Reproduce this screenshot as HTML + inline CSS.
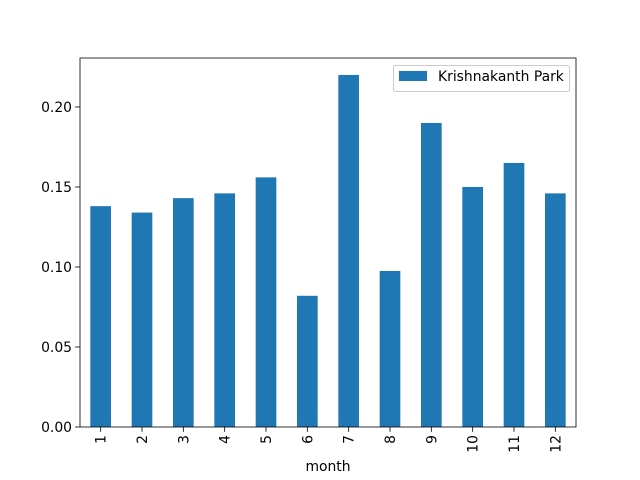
<!DOCTYPE html>
<html><head><meta charset="utf-8"><style>
body{margin:0;background:#fff}
svg{display:block;font-family:"DejaVu Sans","Liberation Sans",sans-serif}
</style></head><body>
<svg id="chart" width="640" height="480"></svg>
<script>
const categories=["1","2","3","4","5","6","7","8","9","10","11","12"];
const values=[0.138,0.134,0.143,0.146,0.156,0.082,0.220,0.0975,0.190,0.150,0.165,0.146];
const yTicks=[0,0.05,0.10,0.15,0.20];
const yTickLabels=["0.00","0.05","0.10","0.15","0.20"];
const seriesName="Krishnakanth Park";
const NS="http://www.w3.org/2000/svg";
const svg=document.getElementById('chart');
const L=80,R=576,T=58,B=427,yMax=0.2306,FS=13.9;
const y=v=>B-(v/yMax)*(B-T);
const step=(R-L)/categories.length;
const x=i=>L+step*(i+0.5);
function mk(t,a,p){const e=document.createElementNS(NS,t);for(const k in a)e.setAttribute(k,a[k]);(p||svg).appendChild(e);return e;}
values.forEach((v,i)=>{
 const r=mk('rect',{x:x(i)-step/4,y:y(v),width:step/2,height:B-y(v),fill:'#1f77b4'});
 
 
});
const frame=mk('rect',{x:L,y:T,width:R-L,height:B-T,fill:'none',stroke:'#000','stroke-width':0.8});


yTicks.forEach((t,i)=>{
 mk('line',{x1:L-4.9,x2:L,y1:y(t),y2:y(t),stroke:'#000','stroke-width':0.8});
 const tx=mk('text',{x:L-8,y:y(t)+5,'font-size':FS,'text-anchor':'end'});
 tx.textContent=yTickLabels[i];
 
 
});
categories.forEach((c,i)=>{
 mk('line',{x1:x(i),x2:x(i),y1:B,y2:B+4.9,stroke:'#000','stroke-width':0.8});
 const tx=mk('text',{x:0,y:0,'font-size':FS,'text-anchor':'end',transform:`translate(${x(i)+5},${B+8}) rotate(-90)`});
 tx.textContent=c;
 
 
});
const xt=mk('text',{x:(L+R)/2,y:471,'font-size':FS,'text-anchor':'middle'});
xt.textContent='month';


const lg=mk('g',{});


mk('rect',{x:393.5,y:65.5,width:176,height:26,rx:2,fill:'#fff',stroke:'#ccc','stroke-width':1},lg);
mk('rect',{x:399,y:71,width:28,height:10,fill:'#1f77b4'},lg);
const lt=mk('text',{x:438,y:81,'font-size':FS},lg);
lt.textContent=seriesName;


</script>
</body></html>
